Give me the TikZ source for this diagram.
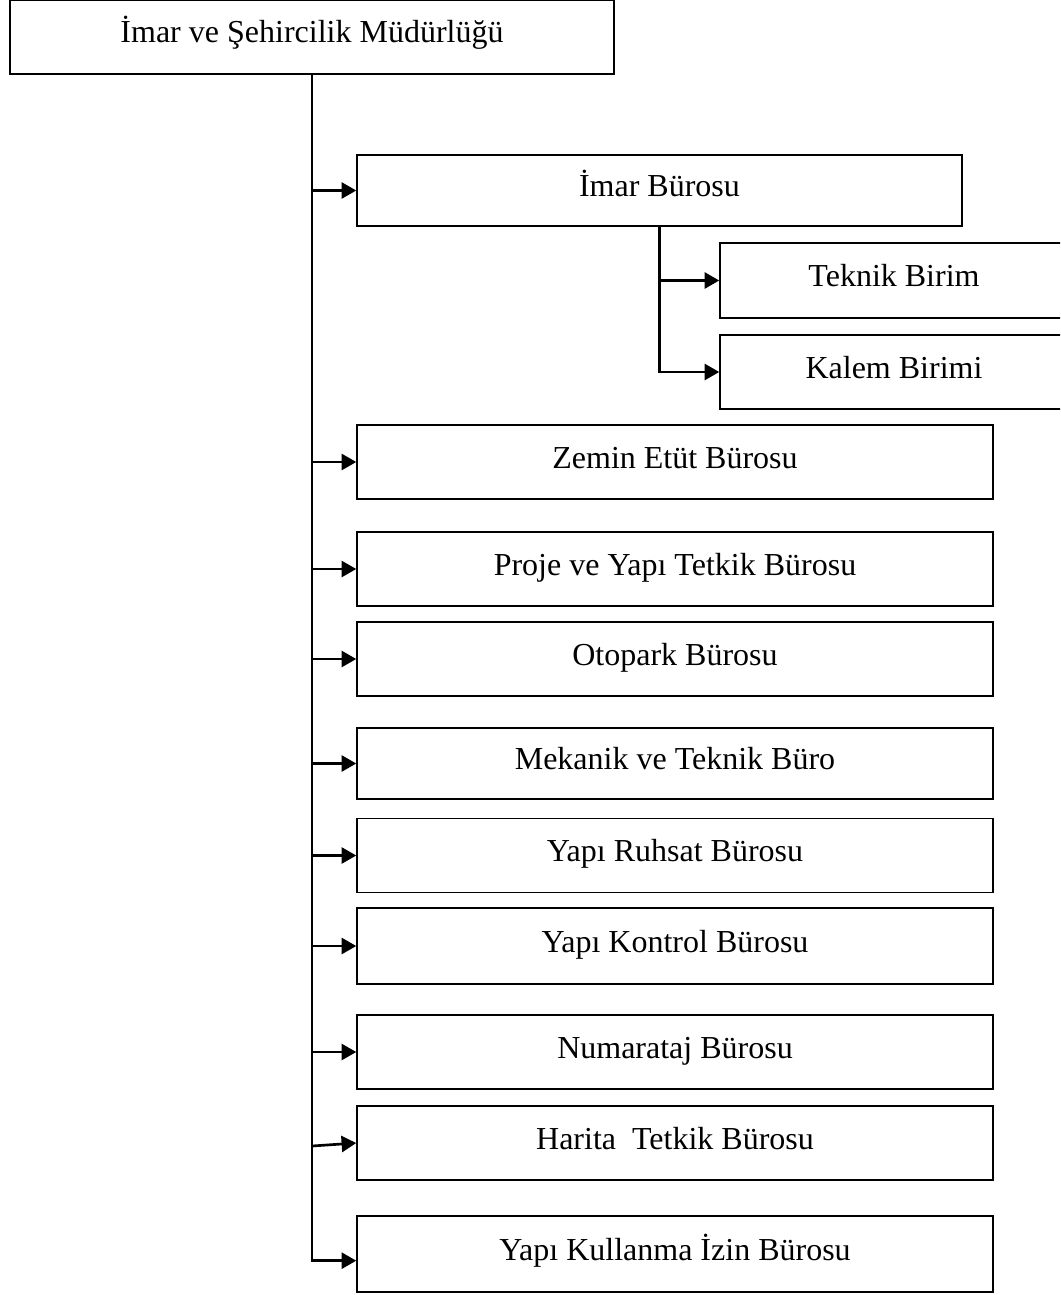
\documentclass[tikz,border=0pt]{standalone}
\usepackage{fontspec}
\setmainfont{Liberation Serif}
\usetikzlibrary{arrows.meta}
\tikzset{
  buro/.style={rectangle, draw=black, line width=1.1pt, fill=white, inner sep=0pt,
    font=\fontsize{24}{28}\selectfont, text height=16pt, text depth=7pt,
    minimum width=477pt, minimum height=55.5pt},
  ok/.style={line width=2pt, -{Triangle[length=11pt,width=12pt]}}
}
\begin{document}
\begin{tikzpicture}[x=0.75pt,y=-0.75pt]
\useasboundingbox (0,0) rectangle (1060,1295);
\clip (0,0) rectangle (1060,1295);
\node[buro, minimum width=453pt](top) at (312,37) {İmar ve Şehircilik Müdürlüğü};
\node[buro, minimum width=453.75pt, minimum height=53.25pt](imar) at (659.5,190.5) {İmar Bürosu};
\node[buro, minimum width=261pt, minimum height=56.25pt](teknik) at (894,280.5) {Teknik Birim};
\node[buro, minimum width=261pt](kalem) at (894,372) {Kalem Birimi};
\node[buro](zemin) at (675,462) {Zemin Etüt Bürosu};
\node[buro](proje) at (675,569) {Proje ve Yapı Tetkik Bürosu};
\node[buro](otopark) at (675,659) {Otopark Bürosu};
\node[buro, minimum height=53.25pt](mekanik) at (675,763.5) {Mekanik ve Teknik Büro};
\node[buro](ruhsat) at (675,855.5) {Yapı Ruhsat Bürosu};
\node[buro, minimum height=57pt](kontrol) at (675,946) {Yapı Kontrol Bürosu};
\node[buro](numarataj) at (675,1052) {Numarataj Bürosu};
\node[buro](harita) at (675,1143) {Harita\ \ Tetkik Bürosu};
\node[buro, minimum height=57pt](kullanma) at (675,1254) {Yapı Kullanma İzin Bürosu};

\draw[ok] (top.south) |- ([yshift=-5pt]kullanma.west);
\foreach \b in {imar,zemin,proje,otopark,mekanik,ruhsat,kontrol,numarataj}
  \draw[ok] (top.south |- \b.west) -- (\b.west);
\coordinate (hkol) at (312,1146);
\draw[ok] (hkol) -- (harita.west);

\draw[ok] (imar.south) |- (kalem.west);
\draw[ok] (imar.south |- teknik.west) -- (teknik.west);
\end{tikzpicture}
\end{document}
